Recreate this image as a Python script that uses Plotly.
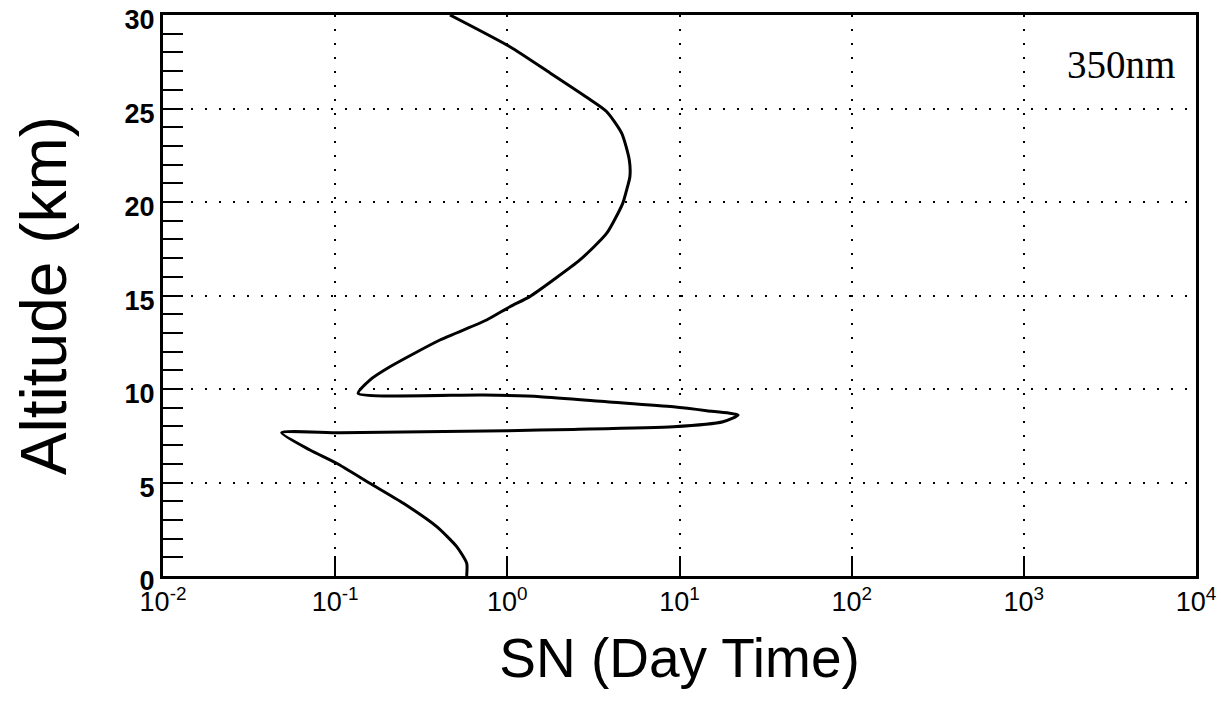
import plotly.graph_objects as go

# Data (altitude in km, SN value)
altitude = [30.0, 28.3, 26.9, 25.6, 24.83, 23.67, 22.25, 21.35, 20.64, 19.93, 18.33, 16.9,
            15.83, 14.94, 14.4, 13.69, 12.62, 11.19, 10.48, 9.77, 9.68, 9.59, 9.32, 9.05,
            8.84, 8.61, 8.25, 7.98, 7.84, 7.77, 7.66, 7.66, 6.74, 6.03, 4.96, 3.89, 2.64,
            1.57, 0.68, 0.05, 0.0]
sn = [0.464, 1.035, 1.77, 2.89, 3.78, 4.62, 5.11, 5.15, 4.93, 4.68, 3.78, 2.64,
      1.85, 1.35, 1.035, 0.758, 0.406, 0.208, 0.159, 0.136, 0.724, 1.55, 3.78, 9.2,
      14.4, 21.9, 17.9, 9.2, 2.42, 0.99, 0.107, 0.0489, 0.0714, 0.102, 0.159, 0.249, 0.389,
      0.508, 0.581, 0.581, 0.58]

x_tickvals = [0.01, 0.1, 1, 10, 100, 1000, 10000]
x_ticktext = ["10<sup>-2</sup>", "10<sup>-1</sup>", "10<sup>0</sup>", "10<sup>1</sup>",
              "10<sup>2</sup>", "10<sup>3</sup>", "10<sup>4</sup>"]
y_tickvals = [0, 5, 10, 15, 20, 25, 30]

fig = go.Figure()
fig.add_trace(go.Scatter(x=sn, y=altitude, mode="lines",
                         line=dict(color="black", width=3, shape="spline", smoothing=0.6),
                         showlegend=False))

fig.add_annotation(text="350nm", x=0.982, y=0.912, xref="paper", yref="paper",
                   xanchor="right", yanchor="middle", showarrow=False,
                   font=dict(family="Liberation Serif", size=39, color="black"))

fig.update_xaxes(type="log", range=[-2, 4], tickvals=x_tickvals, ticktext=x_ticktext,
                 ticks="inside", ticklen=20, tickwidth=2, tickcolor="black",
                 showline=True, linecolor="black", linewidth=3, mirror=True,
                 showgrid=True, gridcolor="black", gridwidth=2, griddash="2px,12px",
                 zeroline=False, ticklabeloverflow="allow",
                 tickfont=dict(family="Liberation Sans", size=27, color="black"),
                 title=dict(text="SN (Day Time)", standoff=23,
                            font=dict(family="Liberation Sans", size=55, color="black")))
fig.update_yaxes(range=[0, 30], tickvals=y_tickvals,
                 ticks="inside", ticklen=20, tickwidth=2, tickcolor="black",
                 minor=dict(dtick=1, ticks="inside", ticklen=20, tickwidth=2,
                            tickcolor="black", showgrid=False),
                 showline=True, linecolor="black", linewidth=3, mirror=True,
                 showgrid=True, gridcolor="black", gridwidth=2, griddash="2px,12px",
                 zeroline=False, ticklabeloverflow="allow", ticklabelshift=5,
                 tickfont=dict(family="Liberation Sans", size=27, color="black", weight="bold"),
                 title=dict(text="Altitude (km)", standoff=54,
                            font=dict(family="Liberation Sans", size=64, color="black")))

fig.update_layout(width=1225, height=707, plot_bgcolor="white", paper_bgcolor="white",
                  margin=dict(l=155, r=37, t=7, b=139, autoexpand=False))

fig.write_html("out.html")
